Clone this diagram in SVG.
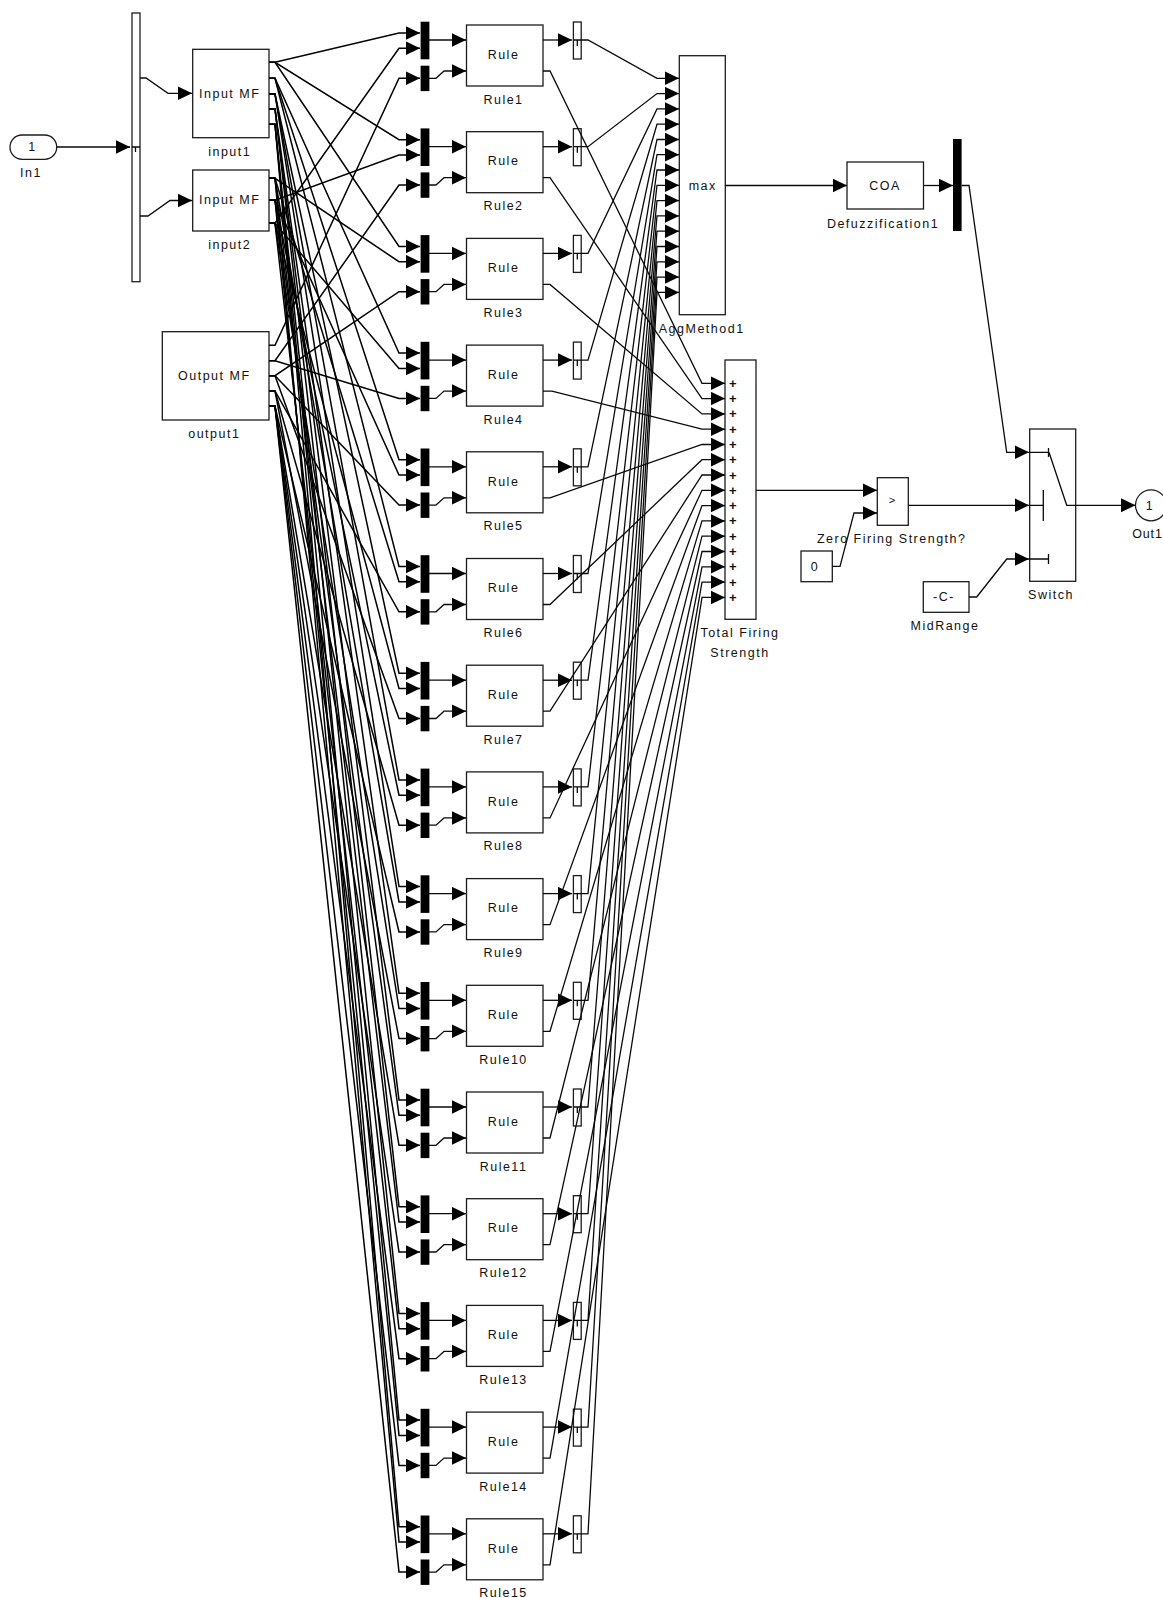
<svg xmlns="http://www.w3.org/2000/svg" xmlns:xlink="http://www.w3.org/1999/xlink" width="1163" height="1598" viewBox="0 0 1163 1598">
<style>
.b{fill:#fff;stroke:#1c1c1c;stroke-width:1.3}
.k{fill:#000;stroke:none}
.w{fill:none;stroke:#0a0a0a;stroke-width:1.3;marker-end:url(#a)}
.f{stroke:#000;stroke-width:1.5}
.n{fill:none;stroke:#0a0a0a;stroke-width:1.3}
text{font-family:"Liberation Sans",Arial,sans-serif;font-size:12.5px;letter-spacing:1.5px;fill:#111;text-anchor:middle}
.p{font-weight:bold;font-size:13px;letter-spacing:0}
</style>
<defs>
<marker id="a" markerUnits="userSpaceOnUse" markerWidth="15" markerHeight="15" refX="14.5" refY="7" orient="auto"><path d="M0 0L14.5 7L0 14Z" fill="#000"/></marker>
<g id="ruleBody">
<rect class="k" x="420.6" y="21.7" width="8.8" height="37.6"/>
<rect class="k" x="420.6" y="65.7" width="8.8" height="25.4"/>
<rect class="b" x="466.5" y="25" width="76.5" height="61"/>
<text x="503.5" y="58.8">Rule</text>
<rect class="b" x="573.4" y="22" width="7.8" height="37"/>
<path class="n" d="M574 40H581M577.3 40V46"/>
</g>
<g id="rowWires">
<path class="w" d="M429 40H466"/>
<path class="w" d="M429 78.3H436L444 71H466"/>
<path class="w" d="M543 40H572"/>
</g>
</defs>
<rect width="1163" height="1598" fill="#fff"/>
<g id="In1"><rect class="b" x="10" y="135" width="46.7" height="24.3" rx="12" ry="12"/><text x="32.5" y="150.5">1</text><text x="31" y="177">In1</text></g>
<g id="InputDemux"><rect class="b" x="132" y="13" width="8" height="268.7"/><path class="n" d="M132 147H140M135.5 147V152"/></g>
<g id="input1"><rect class="b" x="192.7" y="49.3" width="76.3" height="88.4"/><text x="229.7" y="98">Input MF</text><text x="229.7" y="156">input1</text></g>
<g id="input2"><rect class="b" x="192.7" y="170" width="76.3" height="61"/><text x="229.7" y="204">Input MF</text><text x="229.7" y="249">input2</text></g>
<g id="output1"><rect class="b" x="162.3" y="331.7" width="106.7" height="88.3"/><text x="214.3" y="380">Output MF</text><text x="214.3" y="437.7">output1</text></g>
<g id="Rule1"><use href="#ruleBody" xlink:href="#ruleBody"/><text x="503.5" y="103.5">Rule1</text></g>
<g id="Rule2" transform="translate(0,106.7)"><use href="#ruleBody" xlink:href="#ruleBody"/><text x="503.5" y="103.5">Rule2</text></g>
<g id="Rule3" transform="translate(0,213.4)"><use href="#ruleBody" xlink:href="#ruleBody"/><text x="503.5" y="103.5">Rule3</text></g>
<g id="Rule4" transform="translate(0,320.1)"><use href="#ruleBody" xlink:href="#ruleBody"/><text x="503.5" y="103.5">Rule4</text></g>
<g id="Rule5" transform="translate(0,426.8)"><use href="#ruleBody" xlink:href="#ruleBody"/><text x="503.5" y="103.5">Rule5</text></g>
<g id="Rule6" transform="translate(0,533.5)"><use href="#ruleBody" xlink:href="#ruleBody"/><text x="503.5" y="103.5">Rule6</text></g>
<g id="Rule7" transform="translate(0,640.2)"><use href="#ruleBody" xlink:href="#ruleBody"/><text x="503.5" y="103.5">Rule7</text></g>
<g id="Rule8" transform="translate(0,746.9)"><use href="#ruleBody" xlink:href="#ruleBody"/><text x="503.5" y="103.5">Rule8</text></g>
<g id="Rule9" transform="translate(0,853.6)"><use href="#ruleBody" xlink:href="#ruleBody"/><text x="503.5" y="103.5">Rule9</text></g>
<g id="Rule10" transform="translate(0,960.3)"><use href="#ruleBody" xlink:href="#ruleBody"/><text x="503.5" y="103.5">Rule10</text></g>
<g id="Rule11" transform="translate(0,1067)"><use href="#ruleBody" xlink:href="#ruleBody"/><text x="503.5" y="103.5">Rule11</text></g>
<g id="Rule12" transform="translate(0,1173.7)"><use href="#ruleBody" xlink:href="#ruleBody"/><text x="503.5" y="103.5">Rule12</text></g>
<g id="Rule13" transform="translate(0,1280.4)"><use href="#ruleBody" xlink:href="#ruleBody"/><text x="503.5" y="103.5">Rule13</text></g>
<g id="Rule14" transform="translate(0,1387.1)"><use href="#ruleBody" xlink:href="#ruleBody"/><text x="503.5" y="103.5">Rule14</text></g>
<g id="Rule15" transform="translate(0,1493.8)"><use href="#ruleBody" xlink:href="#ruleBody"/><text x="503.5" y="103.5">Rule15</text></g>
<g id="AggMethod1"><rect class="b" x="679.3" y="55.7" width="46" height="259"/><text x="702.7" y="190">max</text><text x="701.7" y="332.5">AggMethod1</text></g>
<g id="TotalFiringStrength"><rect class="b" x="725" y="360" width="31" height="259.3"/>
<text class="p" x="732.7" y="387.8">+</text><text class="p" x="732.7" y="403.1">+</text><text class="p" x="732.7" y="418.4">+</text><text class="p" x="732.7" y="433.7">+</text><text class="p" x="732.7" y="449">+</text><text class="p" x="732.7" y="464.2">+</text><text class="p" x="732.7" y="479.5">+</text><text class="p" x="732.7" y="494.8">+</text><text class="p" x="732.7" y="510.1">+</text><text class="p" x="732.7" y="525.4">+</text><text class="p" x="732.7" y="540.7">+</text><text class="p" x="732.7" y="556">+</text><text class="p" x="732.7" y="571.3">+</text><text class="p" x="732.7" y="586.6">+</text><text class="p" x="732.7" y="601.9">+</text>
<text x="740" y="637">Total Firing</text><text x="740" y="657">Strength</text></g>
<g id="Defuzzification1"><rect class="b" x="847" y="162" width="76.5" height="47"/><text x="885" y="189.5">COA</text><text x="883" y="228">Defuzzification1</text></g>
<g id="OutDemux"><rect class="k" x="953" y="139" width="8.6" height="92"/></g>
<g id="Compare"><rect class="b" x="877.3" y="477.7" width="31" height="47.6"/><text x="892" y="504" style="letter-spacing:0;font-size:11px">&gt;</text><text x="891.7" y="542.7">Zero Firing Strength?</text></g>
<g id="Zero"><rect class="b" x="801" y="551" width="31.3" height="30.7"/><text x="815" y="570.5">0</text></g>
<g id="MidRange"><rect class="b" x="923.3" y="581.7" width="45.7" height="30.6"/><text x="944" y="601">-C-</text><text x="945" y="630">MidRange</text></g>
<g id="Switch"><rect class="b" x="1029.7" y="429" width="46" height="152.3"/><path class="n" d="M1029 452.3H1048M1048.5 448V457M1049 452.3L1066.7 505.3H1076M1029 505.3H1043.3M1043.3 490V521M1029 559H1048M1048.5 554V564"/><text x="1051" y="599.3">Switch</text></g>
<g id="Out1"><circle class="b" cx="1151" cy="505.3" r="15.5"/><text x="1150" y="509.5">1</text><text x="1147.5" y="538" style="letter-spacing:.8px">Out1</text></g>
<g id="connectors">
<path class="w" d="M57 147H130"/>
<path class="w" d="M140 78H146L168 93.3H192"/>
<path class="w" d="M140 216H148L170 200.5H192"/>
<g id="local">
<use href="#rowWires" xlink:href="#rowWires"/>
<use href="#rowWires" xlink:href="#rowWires" y="106.7"/>
<use href="#rowWires" xlink:href="#rowWires" y="213.4"/>
<use href="#rowWires" xlink:href="#rowWires" y="320.1"/>
<use href="#rowWires" xlink:href="#rowWires" y="426.8"/>
<use href="#rowWires" xlink:href="#rowWires" y="533.5"/>
<use href="#rowWires" xlink:href="#rowWires" y="640.2"/>
<use href="#rowWires" xlink:href="#rowWires" y="746.9"/>
<use href="#rowWires" xlink:href="#rowWires" y="853.6"/>
<use href="#rowWires" xlink:href="#rowWires" y="960.3"/>
<use href="#rowWires" xlink:href="#rowWires" y="1067"/>
<use href="#rowWires" xlink:href="#rowWires" y="1173.7"/>
<use href="#rowWires" xlink:href="#rowWires" y="1280.4"/>
<use href="#rowWires" xlink:href="#rowWires" y="1387.1"/>
<use href="#rowWires" xlink:href="#rowWires" y="1493.8"/>
</g>
<g id="fromInput1">
<path class="w f" d="M269 62.3H275L399 33H420"/>
<path class="w f" d="M269 62.3H275L399 139.7H420"/>
<path class="w f" d="M269 62.3H275L399 246.4H420"/>
<path class="w f" d="M269 78.3H275L399 353.1H420"/>
<path class="w f" d="M269 78.3H275L399 459.8H420"/>
<path class="w f" d="M269 78.3H275L399 566.5H420"/>
<path class="w f" d="M269 94H275L399 673.2H420"/>
<path class="w f" d="M269 94H275L399 779.9H420"/>
<path class="w f" d="M269 94H275L399 886.6H420"/>
<path class="w f" d="M269 109H275L399 993.3H420"/>
<path class="w f" d="M269 109H275L399 1100H420"/>
<path class="w f" d="M269 109H275L399 1206.7H420"/>
<path class="w f" d="M269 124.3H275L399 1313.4H420"/>
<path class="w f" d="M269 124.3H275L399 1420.1H420"/>
<path class="w f" d="M269 124.3H275L399 1526.8H420"/>
</g>
<g id="fromInput2">
<path class="w f" d="M269 223.3H275L399 48.3H420"/>
<path class="w f" d="M269 200.3H275L399 155H420"/>
<path class="w f" d="M269 178.3H275L399 261.7H420"/>
<path class="w f" d="M269 223.3H275L399 368.4H420"/>
<path class="w f" d="M269 200.3H275L399 475.1H420"/>
<path class="w f" d="M269 178.3H275L399 581.8H420"/>
<path class="w f" d="M269 223.3H275L399 688.5H420"/>
<path class="w f" d="M269 200.3H275L399 795.2H420"/>
<path class="w f" d="M269 178.3H275L399 901.9H420"/>
<path class="w f" d="M269 223.3H275L399 1008.6H420"/>
<path class="w f" d="M269 200.3H275L399 1115.3H420"/>
<path class="w f" d="M269 178.3H275L399 1222H420"/>
<path class="w f" d="M269 223.3H275L399 1328.7H420"/>
<path class="w f" d="M269 200.3H275L399 1435.4H420"/>
<path class="w f" d="M269 178.3H275L399 1542.1H420"/>
</g>
<g id="fromOutput1">
<path class="w f" d="M269 345.3H275L399 78.3H420"/>
<path class="w f" d="M269 360.7H275L399 185H420"/>
<path class="w f" d="M269 375.7H275L399 291.7H420"/>
<path class="w f" d="M269 360.7H275L399 398.4H420"/>
<path class="w f" d="M269 375.7H275L399 505.1H420"/>
<path class="w f" d="M269 391H275L399 611.8H420"/>
<path class="w f" d="M269 375.7H275L399 718.5H420"/>
<path class="w f" d="M269 391H275L399 825.2H420"/>
<path class="w f" d="M269 406.3H275L399 931.9H420"/>
<path class="w f" d="M269 391H275L399 1038.6H420"/>
<path class="w f" d="M269 406.3H275L399 1145.3H420"/>
<path class="w f" d="M269 406.3H275L399 1252H420"/>
<path class="w f" d="M269 406.3H275L399 1358.7H420"/>
<path class="w f" d="M269 406.3H275L399 1465.4H420"/>
<path class="w f" d="M269 406.3H275L399 1572.1H420"/>
</g>
<g id="toAgg">
<path class="w" d="M581 40H588L657 78.3H679"/>
<path class="w" d="M581 146.7H588L657 93.6H679"/>
<path class="w" d="M581 253.4H588L657 108.9H679"/>
<path class="w" d="M581 360.1H588L657 124.2H679"/>
<path class="w" d="M581 466.8H588L657 139.5H679"/>
<path class="w" d="M581 573.5H588L657 154.7H679"/>
<path class="w" d="M581 680.2H588L657 170H679"/>
<path class="w" d="M581 786.9H588L657 185.3H679"/>
<path class="w" d="M581 893.6H588L657 200.6H679"/>
<path class="w" d="M581 1000.3H588L657 215.9H679"/>
<path class="w" d="M581 1107H588L657 231.2H679"/>
<path class="w" d="M581 1213.7H588L657 246.5H679"/>
<path class="w" d="M581 1320.4H588L657 261.8H679"/>
<path class="w" d="M581 1427.1H588L657 277.1H679"/>
<path class="w" d="M581 1533.8H588L657 292.4H679"/>
</g>
<g id="toSum">
<path class="w" d="M543 71H550L702 383.3H725"/>
<path class="w" d="M543 177.7H550L702 398.6H725"/>
<path class="w" d="M543 284.4H550L702 413.9H725"/>
<path class="w" d="M543 391.1H552L702 429.2H725"/>
<path class="w" d="M543 497.8H550L702 444.5H725"/>
<path class="w" d="M543 604.5H550L702 459.7H725"/>
<path class="w" d="M543 711.2H550L702 475H725"/>
<path class="w" d="M543 817.9H550L702 490.3H725"/>
<path class="w" d="M543 924.6H550L702 505.6H725"/>
<path class="w" d="M543 1031.3H550L702 520.9H725"/>
<path class="w" d="M543 1138H550L702 536.2H725"/>
<path class="w" d="M543 1244.7H550L702 551.5H725"/>
<path class="w" d="M543 1351.4H550L702 566.8H725"/>
<path class="w" d="M543 1458.1H550L702 582.1H725"/>
<path class="w" d="M543 1564.8H550L702 597.4H725"/>
</g>
<path class="w" d="M725.5 185.5H847"/>
<path class="w" d="M923.5 185.5H953"/>
<path class="w" d="M961.6 185.5H969L1006.7 452.3H1029"/>
<path class="w" d="M756 490.3H877"/>
<path class="w" d="M832.3 566.3H840L854 513H877"/>
<path class="w" d="M908.3 505.3H1029"/>
<path class="w" d="M969 597H976.7L1006.7 559H1029"/>
<path class="w" d="M1076 505.3H1135.5"/>
</g>
</svg>
